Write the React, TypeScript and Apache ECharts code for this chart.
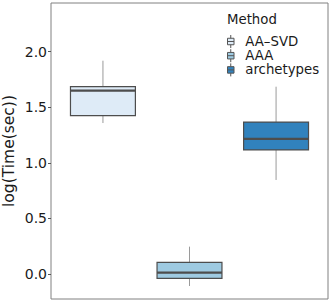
import React, { useEffect, useRef } from "react";
import * as echarts from "echarts";

const methods = ["AA–SVD", "AAA", "archetypes"];
const colors = ["#deebf7", "#9ecae1", "#3182bd"];
// [min, q1, median, q3, max]
const stats = [
  [1.358, 1.424, 1.649, 1.685, 1.919],
  [-0.108, -0.039, 0.012, 0.105, 0.246],
  [0.846, 1.116, 1.215, 1.367, 1.685],
];
const yTicks = [0, 0.5, 1, 1.5, 2];

export default function App() {
  const ref = useRef<HTMLDivElement>(null);
  useEffect(() => {
    const chart = echarts.init(ref.current!, null, { renderer: "svg" });
    const font = "DejaVu Sans";
    const renderItem = (params: any, api: any) => {
      const x = api.value(0);
      const lo = api.coord([x, api.value(1)]);
      const q1 = api.coord([x, api.value(2)]);
      const med = api.coord([x, api.value(3)]);
      const q3 = api.coord([x, api.value(4)]);
      const hi = api.coord([x, api.value(5)]);
      const w = api.size([0.75, 0])[0];
      const cx = lo[0];
      const stroke = "#4d4d4d";
      return {
        type: "group",
        children: [
          { type: "line", shape: { x1: cx, y1: hi[1], x2: cx, y2: q3[1] }, style: { stroke: "#9a9a9a", lineWidth: 1 } },
          { type: "line", shape: { x1: cx, y1: q1[1], x2: cx, y2: lo[1] }, style: { stroke: "#9a9a9a", lineWidth: 1 } },
          { type: "rect", shape: { x: cx - w / 2, y: q3[1], width: w, height: q1[1] - q3[1] }, style: { fill: api.visual("color"), stroke, lineWidth: 1.2 } },
          { type: "line", shape: { x1: cx - w / 2, y1: med[1], x2: cx + w / 2, y2: med[1] }, style: { stroke, lineWidth: 2.2 } },
        ],
      };
    };
    chart.setOption({
      animation: false,
      textStyle: { fontFamily: font },
      title: {
        text: "Method",
        left: 227,
        top: 12.5,
        padding: 0,
        textStyle: { fontFamily: font, fontSize: 13.3, fontWeight: "normal", color: "#1a1a1a" },
      },
      legend: {
        orient: "vertical",
        left: 227,
        top: 34.4,
        padding: 0,
        itemWidth: 7,
        itemHeight: 13,
        itemGap: 0,
        data: methods,
        icon: "path://M3,0V3M0,3H6V9H0ZM0,6H6M3,9V12",
        itemStyle: { borderColor: "#555", borderWidth: 1 },
        textStyle: { fontFamily: font, fontSize: 13.3, color: "#1a1a1a", lineHeight: 14.2, padding: [0, 0, 0, 6] },
      },
      grid: {
        left: 51, right: 4, top: 3, bottom: 6,
        show: true, borderColor: "#808080", borderWidth: 1,
        outerBoundsMode: "none", containLabel: false,
      },
      xAxis: { type: "value", min: 0.4, max: 3.6, show: false },
      yAxis: {
        type: "value",
        min: -0.225,
        max: 2.438,
        name: "log(Time(sec))",
        nameLocation: "middle",
        nameGap: 34,
        nameMoveOverlap: false,
        nameTextStyle: { fontFamily: font, fontSize: 15.5, color: "#1a1a1a" },
        axisLine: { show: false },
        splitLine: { show: false },
        axisTick: { show: true, length: 3, customValues: yTicks, lineStyle: { color: "#555" } },
        axisLabel: {
          customValues: yTicks,
          formatter: (v: number) => v.toFixed(1),
          fontFamily: font,
          fontSize: 14,
          color: "#1a1a1a",
          margin: 4,
        },
      },
      series: methods.map((m, i) => ({
        name: m,
        type: "custom",
        renderItem,
        itemStyle: { color: colors[i] },
        encode: { x: 0, y: [1, 2, 3, 4, 5] },
        data: [[i + 1, ...stats[i]]],
      })),
    });
    return () => chart.dispose();
  }, []);
  return <div ref={ref} style={{ width: 332, height: 305, position: "absolute", left: 0, top: 0 }} />;
}
